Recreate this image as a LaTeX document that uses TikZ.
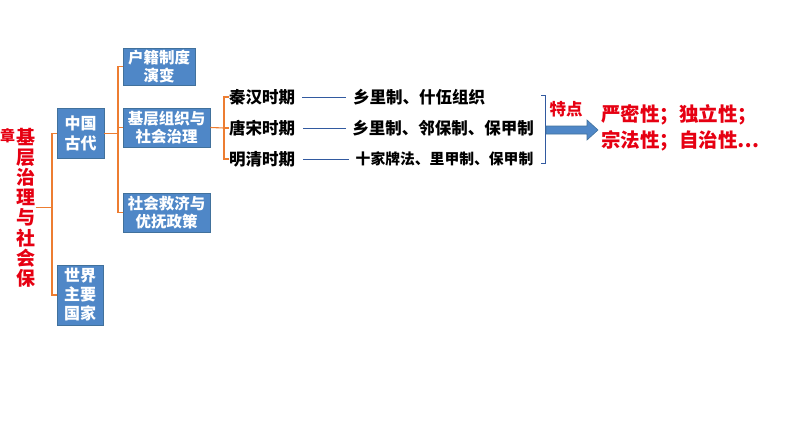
\documentclass[tikz,border=0pt]{standalone}
\usepackage{fontspec}
\newfontfamily\cjk{Noto Sans CJK SC}
\definecolor{boxblue}{RGB}{79,135,199}
\definecolor{boxedge}{RGB}{65,113,156}
\definecolor{conorange}{RGB}{237,125,49}
\definecolor{lineblue}{RGB}{50,90,160}
\definecolor{keyred}{RGB}{230,0,18}
\tikzset{
  bluebox/.style={fill=boxblue, draw=boxedge, line width=0.8pt, text=white, align=center, inner sep=0pt,
    font=\cjk\bfseries\fontsize{15.5}{18}\selectfont},
  orangecon/.style={draw=conorange, line width=1.1pt},
  bluecon/.style={draw=lineblue, line width=0.9pt},
  period/.style={inner sep=0pt, font=\cjk\bfseries\fontsize{16.5}{18}\selectfont, text=black},
  redtext/.style={inner sep=0pt, text=keyred, font=\cjk\bfseries\fontsize{19.5}{26}\selectfont, align=left},
}
\begin{document}
\begin{tikzpicture}[x=1pt,y=-1pt]
\useasboundingbox (0,0) rectangle (794,447);
% vertical title
\node[inner sep=0pt, text=keyred, font=\cjk\bfseries\fontsize{15}{18}\selectfont] (zhang) at (7.6,136) {章};
\node[inner sep=0pt, text=keyred, align=center, font=\cjk\bfseries\fontsize{19}{20.2}\selectfont] (vt) at (26,207.5)
  {基\\层\\治\\理\\与\\社\\会\\保};
% level 1 boxes
\node[bluebox, minimum width=47pt, minimum height=50pt, font=\cjk\bfseries\fontsize{16}{20}\selectfont] (zg) at (80.5,133.5) {中国\\古代};
\node[bluebox, minimum width=46pt, minimum height=60pt, font=\cjk\bfseries\fontsize{16}{19}\selectfont] (sj) at (80,295) {世界\\主要\\国家};
% level 2 boxes
\node[bluebox, minimum width=72pt, minimum height=37pt] (hj) at (159,66.5) {户籍制度\\演变};
\node[bluebox, minimum width=87pt, minimum height=39pt] (jc) at (166.5,127.5) {基层组织与\\社会治理};
\node[bluebox, minimum width=87pt, minimum height=39pt] (sh) at (166.5,212.5) {社会救济与\\优抚政策};
% periods
\node[period] (qh) at (262,97) {秦汉时期};
\node[period] (ts) at (262,128) {唐宋时期};
\node[period] (mq) at (262,159) {明清时期};
\node[period] (r1) at (419,97) {乡里制、什伍组织};
\node[period] (r2) at (443,128) {乡里制、邻保制、保甲制};
\node[period, font=\cjk\bfseries\fontsize{14.8}{18}\selectfont] (r3) at (444.5,159) {十家牌法、里甲制、保甲制};
% orange connectors
\coordinate (j1) at (52,207.5);
\coordinate (j2) at (118,133.5);
\coordinate (j3) at (224,128);
\draw[orangecon] (vt.east) -- (j1);
\draw[orangecon] (zg.west) -| (j1) |- (sj.west);
\draw[orangecon] (zg.east) -- (j2);
\draw[orangecon] (hj.west) -| (j2) |- (sh.west);
\draw[orangecon] (jc.west) -- (jc.west -| j2);
\draw[orangecon] (jc.east) -- (j3);
\draw[orangecon] (qh.west) -| (j3) |- (mq.west);
\draw[orangecon] (ts.west) -- (j3);
% blue lines
\draw[bluecon, shorten <=7pt, shorten >=7pt] (qh) -- (r1);
\draw[bluecon, shorten <=8pt, shorten >=6pt] (ts) -- (r2);
\draw[bluecon, shorten <=8pt, shorten >=7pt] (mq) -- (r3);
% right bracket
\coordinate (bt) at (545,95);
\coordinate (bb) at (545,163);
\draw[bluecon, line width=0.8pt] (bt) ++(-4,0) -- (bt) -- (bb) -- ++(-4,0);
% 特点 and arrow
\node[inner sep=0pt, text=keyred, font=\cjk\bfseries\fontsize{16.5}{18}\selectfont] (td) at (566,109) {特点};
\coordinate (as) at (546,130);
\coordinate (at) at (598,130);
\draw[fill=boxblue, draw=boxedge, line width=0.6pt]
  (as) ++(0,-4) -- ++(41,0) -- ++(0,-6) -- (at) -- ++(-11,10) -- ++(0,-6) -- ++(-41,0) -- cycle;
\node[redtext, anchor=west] (res) at (601,128) {严密性；独立性；\\宗法性；自治性…};
\end{tikzpicture}
\end{document}
